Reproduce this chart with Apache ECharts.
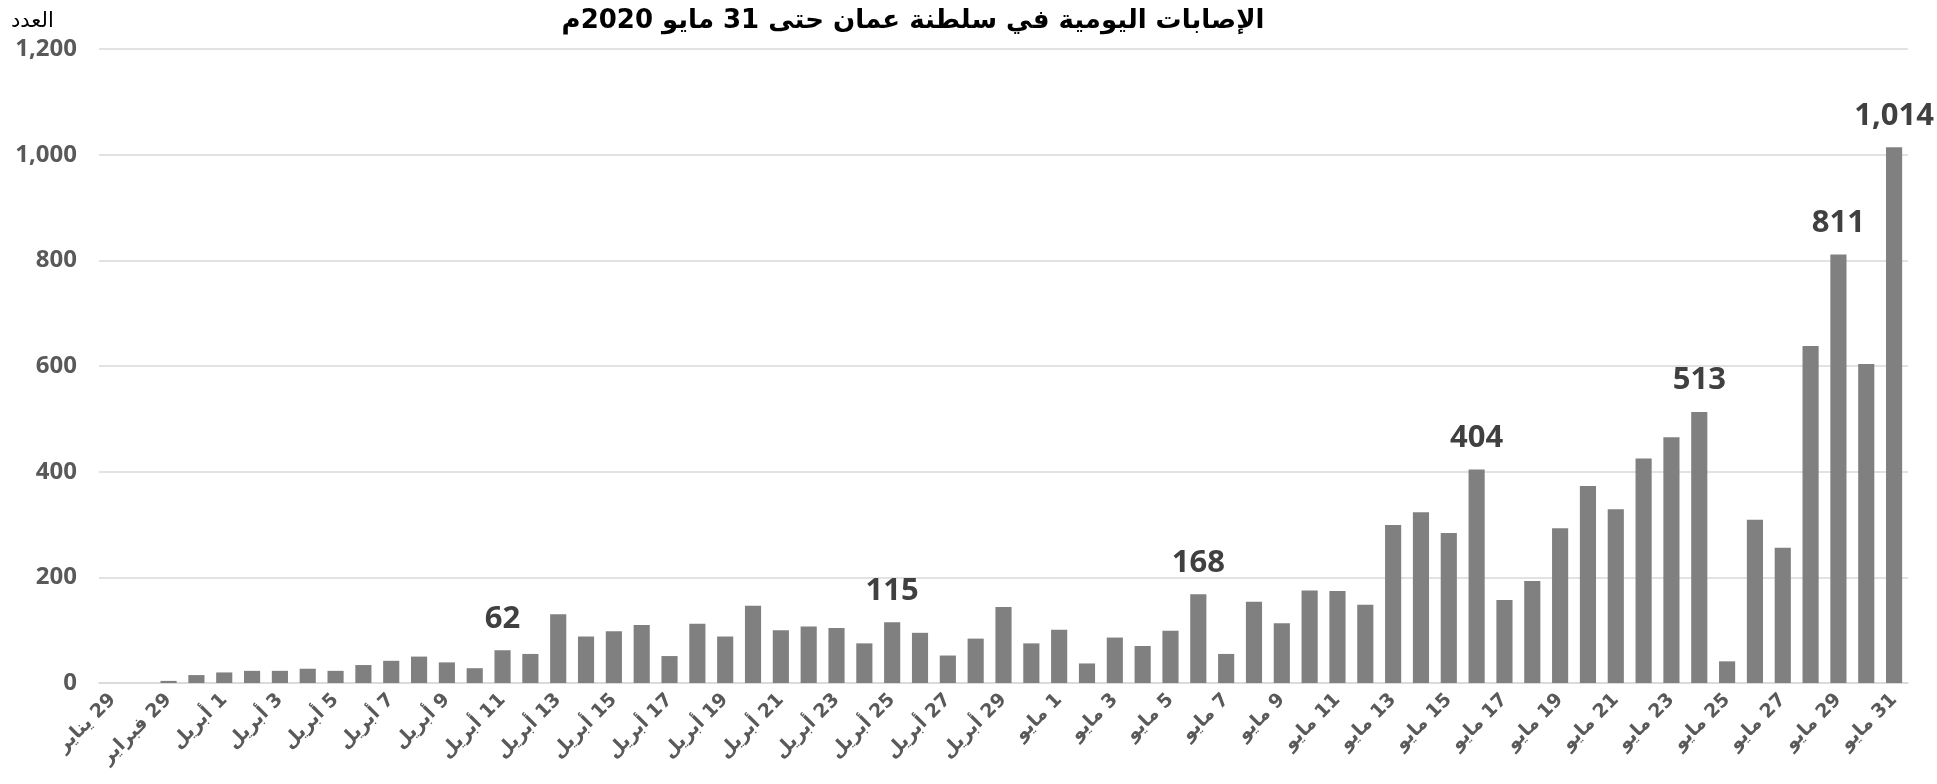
<!DOCTYPE html>
<html>
<head>
<meta charset="utf-8">
<script src="https://cdn.jsdelivr.net/npm/echarts@6/dist/echarts.min.js"></script>
<style>
html,body{margin:0;padding:0;background:#fff;}
#chart{width:1937px;height:784px;}
</style>
</head>
<body>
<div id="chart"></div>
<script>
const titleText = 'الإصابات اليومية في سلطنة عمان حتى 31 مايو 2020م';
const yAxisTitle = 'العدد';

const categories = [
  '29 يناير', '24 فبراير', '29 فبراير', '31 مارس',
  '1 أبريل', '2 أبريل', '3 أبريل', '4 أبريل', '5 أبريل', '6 أبريل', '7 أبريل', '8 أبريل', '9 أبريل', '10 أبريل',
  '11 أبريل', '12 أبريل', '13 أبريل', '14 أبريل', '15 أبريل', '16 أبريل', '17 أبريل', '18 أبريل', '19 أبريل', '20 أبريل',
  '21 أبريل', '22 أبريل', '23 أبريل', '24 أبريل', '25 أبريل', '26 أبريل', '27 أبريل', '28 أبريل', '29 أبريل', '30 أبريل',
  '1 مايو', '2 مايو', '3 مايو', '4 مايو', '5 مايو', '6 مايو', '7 مايو', '8 مايو', '9 مايو', '10 مايو',
  '11 مايو', '12 مايو', '13 مايو', '14 مايو', '15 مايو', '16 مايو', '17 مايو', '18 مايو', '19 مايو', '20 مايو',
  '21 مايو', '22 مايو', '23 مايو', '24 مايو', '25 مايو', '26 مايو', '27 مايو', '28 مايو', '29 مايو', '30 مايو',
  '31 مايو'
];

const dailyCases = [
  0, 0, 4, 15,
  20, 23, 23, 27, 23, 34, 42, 50, 39, 28,
  62, 55, 130, 88, 98, 110, 51, 112, 88, 146,
  100, 107, 104, 75, 115, 95, 52, 84, 144, 75,
  101, 37, 86, 70, 99, 168, 55, 154, 113, 175,
  174, 148, 299, 323, 284, 404, 157, 193, 293, 373,
  329, 425, 465, 513, 41, 309, 256, 638, 811, 604,
  1014
];

// categories whose value is written above the bar
const labelledDays = ['11 أبريل', '25 أبريل', '6 مايو', '16 مايو', '24 مايو', '29 مايو', '31 مايو'];

const yTicks = { min: 0, max: 1200, interval: 200 };

const RLM = '\u200F';
const fmt = v => Number(v).toLocaleString('en-US');

const seriesData = dailyCases.map((v, i) => ({
  value: v,
  label: { show: labelledDays.indexOf(categories[i]) >= 0 }
}));

const chart = echarts.init(document.getElementById('chart'), null, { renderer: 'canvas' });
chart.setOption({
  animation: false,
  backgroundColor: '#ffffff',
  title: [
    {
      text: titleText,
      left: 908,
      textAlign: 'center',
      top: 3,
      textStyle: { fontFamily: 'DejaVu Sans', fontWeight: 'bold', fontSize: 26, color: '#000000' }
    },
    {
      text: yAxisTitle,
      left: 6,
      top: 6,
      textStyle: { fontFamily: 'DejaVu Sans', fontWeight: 'normal', fontSize: 21, color: '#000000' }
    }
  ],
  grid: { left: 99, right: 29, top: 49, bottom: 101, containLabel: false },
  xAxis: {
    type: 'category',
    data: categories,
    axisLine: { show: true, lineStyle: { color: '#d9d9d9', width: 1.5 } },
    axisTick: { show: false },
    axisLabel: {
      interval: 1,
      rotate: 45,
      margin: 14,
      fontFamily: 'DejaVu Sans',
      fontWeight: 'bold',
      fontSize: 19,
      color: '#595959',
      formatter: v => RLM + v
    }
  },
  yAxis: {
    type: 'value',
    min: yTicks.min,
    max: yTicks.max,
    interval: yTicks.interval,
    axisLine: { show: false },
    axisTick: { show: false },
    splitLine: { lineStyle: { color: '#d9d9d9', width: 1.5 } },
    axisLabel: {
      margin: 22,
      fontFamily: 'Open Sans',
      fontWeight: 'bold',
      fontSize: 24,
      color: '#595959',
      formatter: v => fmt(v)
    }
  },
  series: [{
    type: 'bar',
    data: seriesData,
    barCategoryGap: '42%',
    itemStyle: { color: '#808080' },
    label: {
      position: 'top',
      distance: 16,
      fontFamily: 'Open Sans',
      fontWeight: 'bold',
      fontSize: 31,
      color: '#404040',
      formatter: p => fmt(p.value)
    }
  }]
});
</script>
</body>
</html>
